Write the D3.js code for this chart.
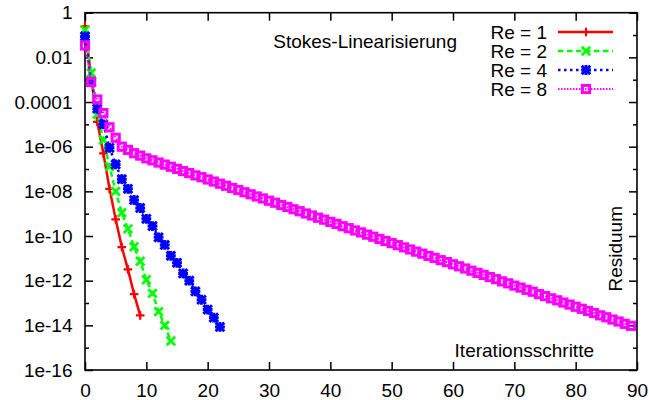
<!DOCTYPE html>
<html>
<head>
<meta charset="utf-8">
<script src="https://cdn.jsdelivr.net/npm/d3@7"></script>
<style>
body { margin: 0; background: #fff; }
svg text { font-family: "Liberation Sans", Arial, sans-serif; font-size: 19px; fill: #000; }
.domain { display: none; }
.tick line { stroke: #000; stroke-width: 1.5; }
</style>
</head>
<body>
<svg class="chart"></svg>
<script>
// residuum per iteration step (index = step)
var re1 = [2.5e-1, 1.3e-3, 1.3e-5, 5.0e-7, 1.3e-8, 5.6e-10, 3.2e-11, 3.2e-12, 2.5e-13, 2.8e-14];

var re2 = [1.7e-1, 2.0e-3, 2.8e-5, 2.0e-6, 1.3e-7, 1.0e-8, 1.1e-9, 2.1e-10, 3.3e-11, 7.4e-12,
	1.1e-12, 2.7e-13, 4.1e-14, 1.0e-14, 2.0e-15];

var re4 = [8.7e-2, 7.9e-4, 5.0e-5, 1.0e-5, 8.9e-7, 1.6e-7, 3.5e-8, 1.3e-8, 4.1e-9, 1.8e-9,
	5.9e-10, 2.8e-10, 8.7e-11, 4.0e-11, 1.3e-11, 6.3e-12, 2.1e-12, 1.0e-12, 3.3e-13, 1.4e-13,
	5.1e-14, 2.2e-14, 8.5e-15];

var re8 = [3.4e-2, 7.9e-4, 1.3e-4, 3.2e-5, 7.4e-6, 2.5e-6, 1.0e-6, 7.2e-7, 5.1e-7, 4.0e-7,
	3.0e-7, 2.45e-7, 1.95e-7, 1.58e-7, 1.26e-7, 1.02e-7, 8.1e-8, 6.6e-8, 5.2e-8, 4.3e-8,
	3.4e-8, 2.75e-8, 2.2e-8, 1.78e-8, 1.41e-8, 1.15e-8, 9.1e-9, 7.4e-9, 5.9e-9, 4.8e-9,
	3.8e-9, 3.1e-9, 2.45e-9, 2.0e-9, 1.58e-9, 1.29e-9, 1.02e-9, 8.3e-10, 6.6e-10, 5.4e-10,
	4.3e-10, 3.5e-10, 2.75e-10, 2.24e-10, 1.78e-10, 1.45e-10, 1.15e-10, 9.3e-11, 7.4e-11, 6.0e-11,
	4.8e-11, 3.9e-11, 3.1e-11, 2.5e-11, 2.0e-11, 1.62e-11, 1.29e-11, 1.05e-11, 8.3e-12, 6.8e-12,
	5.4e-12, 4.4e-12, 3.5e-12, 2.8e-12, 2.24e-12, 1.82e-12, 1.45e-12, 1.17e-12, 9.3e-13, 7.6e-13,
	6.0e-13, 4.9e-13, 3.9e-13, 3.2e-13, 2.5e-13, 2.04e-13, 1.62e-13, 1.32e-13, 1.05e-13, 8.5e-14,
	6.8e-14, 5.5e-14, 4.4e-14, 3.55e-14, 2.8e-14, 2.3e-14, 1.82e-14, 1.48e-14, 1.17e-14, 9.5e-15];

var seriesNames = ["Re = 1", "Re = 2", "Re = 4", "Re = 8"];

var xTicks = [0, 10, 20, 30, 40, 50, 60, 70, 80, 90];
var yTicks = [1, 1e-2, 1e-4, 1e-6, 1e-8, 1e-10, 1e-12, 1e-14, 1e-16];
var yTickLabels = ["1", "0.01", "0.0001", "1e-06", "1e-08", "1e-10", "1e-12", "1e-14", "1e-16"];
var yMinor = [1e-1, 1e-3, 1e-5, 1e-7, 1e-9, 1e-11, 1e-13, 1e-15];

var titleText = "Stokes-Linearisierung",
	xLabel = "Iterationsschritte",
	yLabel = "Residuum";

var width = 649,
	height = 400,
	plotLeft = 85, plotRight = 637, plotTop = 12.7, plotBottom = 370;

var x = d3.scaleLinear().domain([0, 90]).range([plotLeft, plotRight]);
var y = d3.scaleLog().domain([1e-16, 1]).range([plotBottom, plotTop]);

var chart = d3.select(".chart")
	.attr("width", width)
	.attr("height", height);

// axes, ticks all pointing inward
chart.append("g")
	.attr("transform", "translate(0," + plotBottom + ")")
	.call(d3.axisBottom(x).tickValues(xTicks).tickSize(-8).tickPadding(14).tickFormat(d3.format("d")));
chart.append("g")
	.attr("transform", "translate(0," + plotTop + ")")
	.call(d3.axisTop(x).tickValues(xTicks).tickSize(-8).tickFormat(""));

chart.append("g")
	.attr("transform", "translate(" + plotLeft + ",0)")
	.call(d3.axisLeft(y).tickValues(yTicks).tickSize(-8).tickPadding(12.5)
		.tickFormat(function(d, i) { return yTickLabels[i]; }));
chart.append("g")
	.attr("transform", "translate(" + plotLeft + ",0)")
	.call(d3.axisLeft(y).tickValues(yMinor).tickSize(-4).tickFormat(""));
chart.append("g")
	.attr("transform", "translate(" + plotRight + ",0)")
	.call(d3.axisRight(y).tickValues(yTicks).tickSize(-8).tickFormat(""));
chart.append("g")
	.attr("transform", "translate(" + plotRight + ",0)")
	.call(d3.axisRight(y).tickValues(yMinor).tickSize(-4).tickFormat(""));

chart.append("rect")
	.attr("x", plotLeft).attr("y", plotTop)
	.attr("width", plotRight - plotLeft).attr("height", plotBottom - plotTop)
	.attr("fill", "none").attr("stroke", "#000").attr("stroke-width", 1.6);

// marker shapes
function plus(g, s) {
	g.append("path").attr("d", "M" + (-s) + ",0H" + s + "M0," + (-s) + "V" + s);
}
function cross(g, s) {
	g.append("path").attr("d", "M" + (-s) + "," + (-s) + "L" + s + "," + s + "M" + (-s) + "," + s + "L" + s + "," + (-s));
}
function star(g, s) {
	plus(g, s + 0.6);
	cross(g, s);
}
function square(g, s) {
	g.append("rect").attr("x", -s).attr("y", -s).attr("width", 2 * s).attr("height", 2 * s).attr("fill", "none");
}

var series = [
	{ name: seriesNames[0], values: re1, color: "#ff0000", dash: null, mark: plus, ms: 4.3, mw: 2.2, lw: 2.5 },
	{ name: seriesNames[1], values: re2, color: "#00ff00", dash: "5.5,3.5", mark: cross, ms: 4.2, mw: 2.8, lw: 2.5 },
	{ name: seriesNames[2], values: re4, color: "#0000ff", dash: "2.5,3.5", mark: star, ms: 4.3, mw: 3, lw: 2.5 },
	{ name: seriesNames[3], values: re8, color: "#ff00ff", dash: "1.5,1.5", mark: square, ms: 3.6, mw: 3, lw: 2 }
];

var line = d3.line()
	.x(function(d, i) { return x(i); })
	.y(function(d) { return y(d); });

var plot = chart.selectAll(".series")
	.data(series)
  .enter().append("g")
	.attr("class", "series");

plot.append("path")
	.attr("d", function(d) { return line(d.values); })
	.attr("fill", "none")
	.attr("stroke", function(d) { return d.color; })
	.attr("stroke-width", function(d) { return d.lw; })
	.attr("stroke-dasharray", function(d) { return d.dash; });

plot.each(function(s) {
	var g = d3.select(this);
	s.values.forEach(function(v, i) {
		var m = g.append("g")
			.attr("transform", "translate(" + x(i) + "," + y(v) + ")")
			.attr("stroke", s.color)
			.attr("stroke-width", s.mw);
		s.mark(m, s.ms);
	});
});

// legend
var legend = chart.selectAll(".legend")
	.data(series)
  .enter().append("g")
	.attr("class", "legend")
	.attr("transform", function(d, i) { return "translate(0," + (32 + i * 19) + ")"; });

legend.append("text")
	.attr("x", 547)
	.attr("dy", "0.35em")
	.attr("text-anchor", "end")
	.text(function(d) { return d.name; });

legend.append("line")
	.attr("x1", 558).attr("x2", 613)
	.attr("stroke", function(d) { return d.color; })
	.attr("stroke-width", function(d) { return d.lw; })
	.attr("stroke-dasharray", function(d) { return d.dash; });

legend.each(function(s) {
	var m = d3.select(this).append("g")
		.attr("transform", "translate(586,0)")
		.attr("stroke", s.color)
		.attr("stroke-width", s.mw);
	s.mark(m, s.ms);
});

chart.append("text")
	.attr("x", 457).attr("y", 48)
	.attr("text-anchor", "end")
	.text(titleText);

chart.append("text")
	.attr("x", 594).attr("y", 357)
	.attr("text-anchor", "end")
	.text(xLabel);

chart.append("text")
	.attr("transform", "translate(622,206) rotate(-90)")
	.attr("text-anchor", "end")
	.text(yLabel);
</script>
</body>
</html>
